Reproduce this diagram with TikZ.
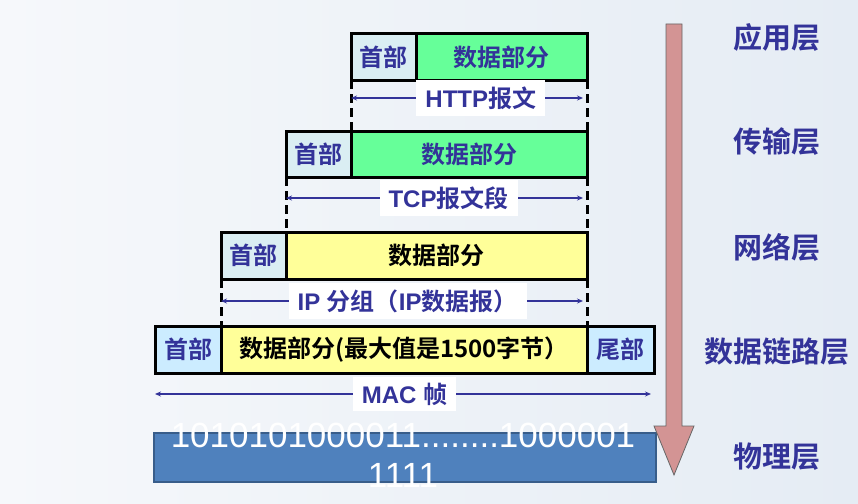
\documentclass[tikz,border=0pt]{standalone}
\usepackage{fontspec}
\setmainfont{Liberation Sans}
\newfontfamily\cjk{Noto Sans CJK SC}[BoldFont={Noto Sans CJK SC Bold}]
\usetikzlibrary{positioning,arrows.meta}

\definecolor{lblue}{HTML}{333399}
\definecolor{hdrfill}{HTML}{DAEEF3}
\definecolor{macfill}{HTML}{CCECFF}
\definecolor{grn}{HTML}{66FF99}
\definecolor{ylw}{HTML}{FFFF99}
\definecolor{physblue}{HTML}{4F81BD}
\definecolor{physedge}{HTML}{385D8A}
\definecolor{arrowpink}{HTML}{D39494}
\definecolor{bgleft}{HTML}{F6F8FB}
\definecolor{bgright}{HTML}{E5ECF4}

\newcommand\pxsize[1]{\fontsize{#1}{#1}\selectfont}
\newcommand\zh[1]{{\cjk #1}}

\tikzset{
  box/.style={draw, line width=3pt, outer sep=0pt, inner sep=0pt, minimum height=46pt, font=\pxsize{24}\bfseries\cjk},
  hdrbox/.style={box, fill=hdrfill, text=lblue, minimum width=65pt},
  greenbox/.style={box, fill=grn, text=lblue},
  yellowbox/.style={box, fill=ylw, text=black},
  macbox/.style={box, fill=macfill, text=lblue, minimum height=47pt},
  cut/.style={line width=3pt, dash pattern=on 9pt off 5pt},
  span/.style={draw=lblue, line width=2pt, {Stealth[length=6pt,width=5pt]}-{Stealth[length=6pt,width=5pt]}},
  spanlabel/.style={fill=white, text=lblue, inner xsep=9pt, inner ysep=7pt, font=\pxsize{24}\bfseries},
  layer/.style={text=lblue, font=\pxsize{29}\bfseries\cjk},
  physbox/.style={draw=physedge, fill=physblue, line width=1.5pt, outer sep=0pt},
  bits/.style={text=white, align=center, font=\fontsize{35}{40}\selectfont}
}

\begin{document}
\begin{tikzpicture}[x=1pt,y=-1pt]
  % background
  \fill[left color=bgleft, right color=bgright] (0,0) rectangle (858,503);

  % application layer
  \node[hdrbox, anchor=north west] (hdr1) at (351,34) {首部};
  \node[greenbox, minimum width=171pt, right=0pt of hdr1] (data1) {数据部分};
  % transport layer
  \node[hdrbox, anchor=north west] (hdr2) at (286,131) {首部};
  \node[greenbox, minimum width=236pt, right=0pt of hdr2] (data2) {数据部分};
  % network layer
  \node[hdrbox, minimum height=47pt, anchor=north west] (hdr3) at (221,232) {首部};
  \node[yellowbox, minimum height=47pt, minimum width=301pt, right=0pt of hdr3] (data3) {数据部分};
  % data link layer
  \node[macbox, minimum width=66pt, anchor=north west] (hdr4) at (155,326) {首部};
  \node[yellowbox, minimum height=47pt, minimum width=366pt, right=0pt of hdr4] (data4) {数据部分(最大值是\textbf{1500}字节）};
  \node[macbox, minimum width=67pt, right=0pt of data4] (tail4) {尾部};
  % physical layer
  \node[physbox, minimum width=502pt, minimum height=49pt, anchor=north west] (phys) at (154,433) {};
  \node[bits] (bitstext) at (403,455) {1010101000011........1000001\\1111};

  % dashed boundaries
  \draw[cut] (hdr1.south west) -- (hdr2.north east);
  \draw[cut] (data1.south east) -- (data2.north east);
  \draw[cut] (hdr2.south west) -- (hdr3.north east);
  \draw[cut] (data2.south east) -- (data3.north east);
  \draw[cut] (hdr3.south west) -- (hdr4.north east);
  \draw[cut] (data3.south east) -- (data4.north east);

  % spans
  \draw[span, shorten >=4pt] ([yshift=-18pt]hdr1.south west) -- node[spanlabel, pos=.55] (httplbl) {HTTP\zh{报文}} ([yshift=-18pt]data1.south east);
  \draw[span, shorten >=4pt] ([yshift=-21pt]hdr2.south west) -- node[spanlabel, pos=.54] (tcplbl) {TCP\zh{报文段}} ([yshift=-21pt]data2.south east);
  \draw[span, shorten >=4pt] ([yshift=-22pt]hdr3.south west) -- node[spanlabel, inner ysep=6pt, pos=.51] (iplbl) {IP \zh{分组（}IP\zh{数据报）}} ([yshift=-22pt]data3.south east);
  \draw[span, shorten >=3pt] ([yshift=-21pt]hdr4.south west) -- node[spanlabel, inner ysep=6pt] (maclbl) {MAC \zh{帧}} ([yshift=-21pt]tail4.south east);

  % direction arrow
  \filldraw[fill=arrowpink, draw=black!60, line width=0.8pt] (666,24) -- (682,24) -- (682,426) -- (694,426) -- (674,475) -- (654,426) -- (666,426) -- cycle;

  % layer names
  \node[layer] (app) at (777,37) {应用层};
  \node[layer] (trans) at (777,142) {传输层};
  \node[layer] (net) at (777,247) {网络层};
  \node[layer] (link) at (777,352) {数据链路层};
  \node[layer] (phy) at (777,457) {物理层};
\end{tikzpicture}
\end{document}
